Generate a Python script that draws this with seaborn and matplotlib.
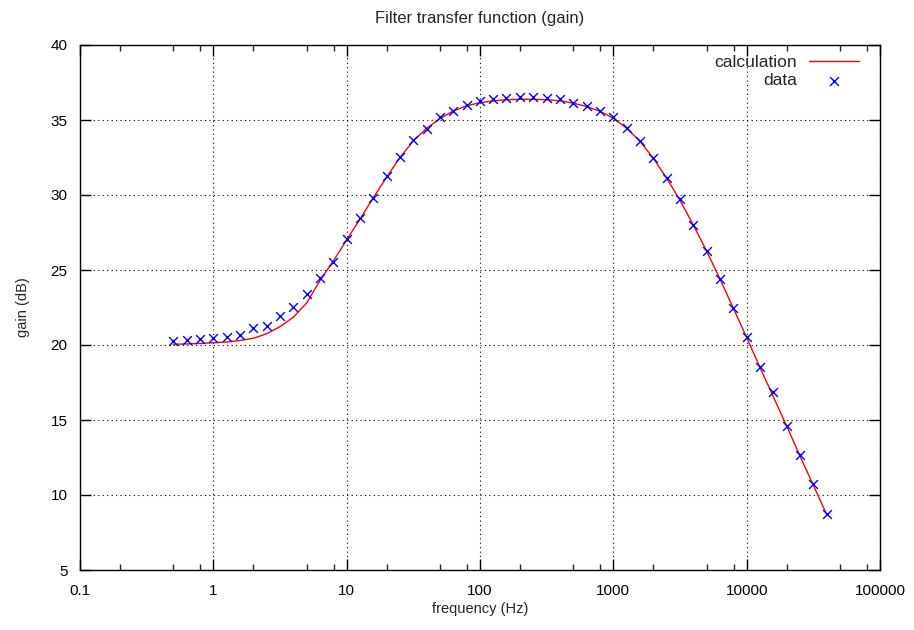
import numpy as np
import pandas as pd
import matplotlib
matplotlib.use("Agg")
import matplotlib.pyplot as plt
import seaborn as sns
from matplotlib.ticker import FixedLocator, NullFormatter


# ============================================
# DATA
# ============================================

freq = [
    0.5, 0.63, 0.79, 1.0, 1.26, 1.58, 2.0, 2.51, 3.16, 3.98,
    5.01, 6.31, 7.94, 10, 12.6, 15.8, 20, 25.1, 31.6, 39.8,
    50.1, 63.1, 79.4, 100, 126, 158, 200, 251, 316, 398,
    501, 631, 794, 1000, 1259, 1585, 1995, 2512, 3162, 3981,
    5012, 6310, 7943, 10000, 12589, 15849, 19953, 25119, 31623, 39811
]

gain_data = [
    20.29, 20.33, 20.38, 20.44, 20.51, 20.67, 21.15, 21.27, 21.95, 22.55,
    23.38, 24.50, 25.55, 27.05, 28.45, 29.78, 31.27, 32.55, 33.67, 34.40,
    35.18, 35.60, 36.00, 36.27, 36.38, 36.45, 36.51, 36.51, 36.45, 36.38,
    36.15, 35.95, 35.62, 35.20, 34.45, 33.60, 32.49, 31.15, 29.71, 28.00,
    26.27, 24.38, 22.49, 20.51, 18.55, 16.84, 14.62, 12.67, 10.71, 8.73
]

gain_calc = [
    20.05, 20.07, 20.10, 20.15, 20.20, 20.30, 20.45, 20.75, 21.22, 21.85,
    22.80, 24.30, 25.60, 27.00, 28.40, 29.80, 31.20, 32.50, 33.60, 34.45,
    35.10, 35.60, 35.95, 36.15, 36.28, 36.35, 36.38, 36.38, 36.35, 36.28,
    36.12, 35.90, 35.58, 35.12, 34.45, 33.58, 32.45, 31.12, 29.65, 28.00,
    26.25, 24.40, 22.45, 20.50, 18.50, 16.55, 14.60, 12.60, 10.65, 8.70
]

x_ticks = [0.1, 1, 10, 100, 1000, 10000, 100000]
x_tick_labels = ["0.1", "1", "10", "100", "1000", "10000", "100000"]
y_ticks = [5, 10, 15, 20, 25, 30, 35, 40]

df = pd.DataFrame({
    "freq": freq,
    "data": gain_data,
    "calculation": gain_calc
})


# ============================================
# STYLE
# ============================================

sns.set_style("ticks")
plt.rcParams["font.family"] = ["Liberation Sans", "DejaVu Sans"]


# ============================================
# PLOT
# ============================================

fig = plt.figure(figsize=(9.14, 6.30), dpi=100)
ax = fig.add_axes([80 / 914, 60 / 630, 800 / 914, 525 / 630])

ax.set_xscale("log")

sns.lineplot(
    data=df,
    x="freq",
    y="calculation",
    color="#ff0000",
    linewidth=1.0,
    label="calculation",
    ax=ax
)

sns.scatterplot(
    data=df,
    x="freq",
    y="data",
    color="#0000ff",
    marker="x",
    s=40,
    linewidth=1.0,
    label="data",
    ax=ax,
    zorder=3
)

ax.set_xlim(0.1, 100000)
ax.set_ylim(5, 40)

ax.xaxis.set_major_locator(FixedLocator(x_ticks))
ax.set_xticklabels(x_tick_labels)
ax.xaxis.set_minor_locator(FixedLocator(
    [m * 10.0 ** e for e in range(-1, 5) for m in (2, 5, 8)]
))
ax.xaxis.set_minor_formatter(NullFormatter())
ax.set_yticks(y_ticks)

ax.tick_params(
    which="major", direction="in", length=8, width=1,
    top=True, right=True, labelsize=11, colors="black"
)
ax.tick_params(axis="x", which="major", pad=10)
ax.tick_params(axis="y", which="major", pad=9)
ax.tick_params(
    which="minor", direction="in", length=4, width=1,
    top=True, right=True
)

ax.grid(True, which="major", color="black", linestyle=(0, (1, 3)), linewidth=0.8)

for spine in ax.spines.values():
    spine.set_color("black")
    spine.set_linewidth(1.0)

ax.set_title("Filter transfer function (gain)", fontsize=12, pad=16)
ax.set_xlabel("frequency (Hz)", fontsize=10.5, labelpad=3)
ax.set_ylabel("gain (dB)", fontsize=10.5, labelpad=15)

ax.legend(
    loc="upper right",
    bbox_to_anchor=(859 / 914, 1 - 55 / 630),
    bbox_transform=fig.transFigure,
    frameon=False,
    markerfirst=False,
    fontsize=12.5,
    handlelength=2.9,
    borderpad=0,
    borderaxespad=0,
    labelspacing=0.17,
    handletextpad=0.65
)

plt.savefig("out.png", dpi=100)
